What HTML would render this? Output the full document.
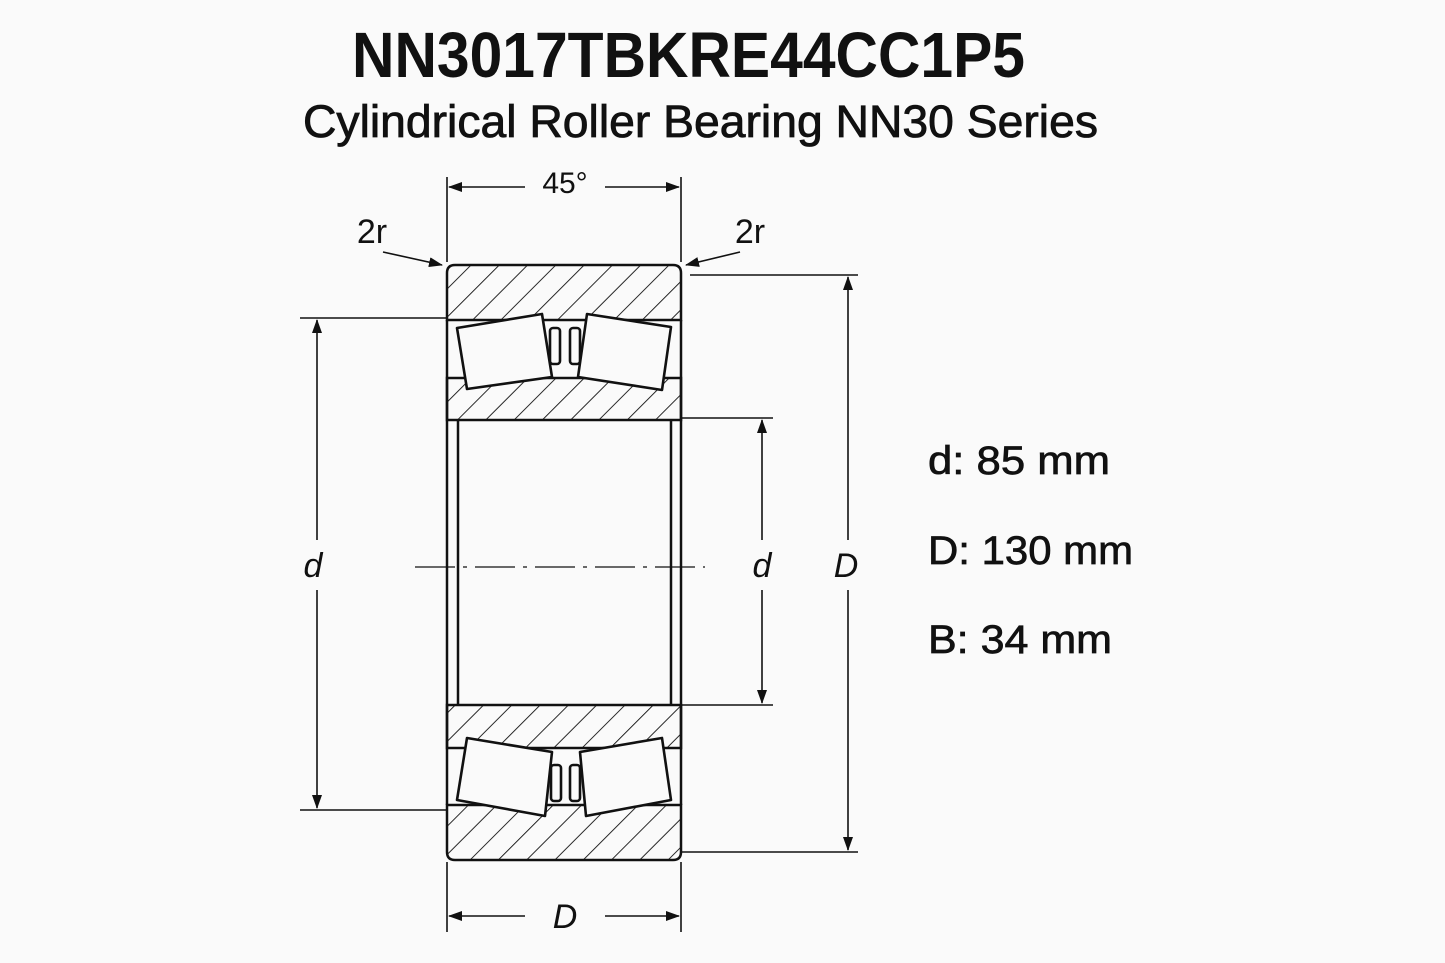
<!DOCTYPE html>
<html><head><style>
html,body{margin:0;padding:0;background:#fafafa;}
svg{display:block;}
text{font-family:"Liberation Sans",sans-serif;fill:#111;}
</style></head><body>
<svg width="1445" height="963" viewBox="0 0 1445 963" xmlns="http://www.w3.org/2000/svg">
<defs>
<pattern id="h" patternUnits="userSpaceOnUse" width="20" height="20" patternTransform="rotate(45)">
<line x1="0" y1="0" x2="0" y2="20" stroke="#111" stroke-width="1.8"/>
</pattern>
<marker id="a" markerWidth="14" markerHeight="10" refX="13" refY="5" orient="auto" markerUnits="userSpaceOnUse">
<path d="M0,0 L14,5 L0,10 z" fill="#111"/>
</marker>
</defs>
<text x="352" y="77" font-size="64" font-weight="bold" textLength="673" lengthAdjust="spacingAndGlyphs">NN3017TBKRE44CC1P5</text>
<text x="303" y="137" font-size="45" stroke="#111" stroke-width="0.8" textLength="795" lengthAdjust="spacingAndGlyphs">Cylindrical Roller Bearing NN30 Series</text>

<g stroke="#111" fill="none" stroke-width="1.6">
<line x1="447" y1="177" x2="447" y2="262"/>
<line x1="681" y1="177" x2="681" y2="262"/>
<line x1="447" y1="862" x2="447" y2="932"/>
<line x1="681" y1="862" x2="681" y2="932"/>
<line x1="300" y1="318" x2="447" y2="318"/>
<line x1="300" y1="810" x2="447" y2="810"/>
<line x1="681" y1="418" x2="773" y2="418"/>
<line x1="681" y1="705" x2="773" y2="705"/>
<line x1="690" y1="275" x2="858" y2="275"/>
<line x1="681" y1="852" x2="858" y2="852"/>
<line x1="525" y1="187" x2="449" y2="187" marker-end="url(#a)"/>
<line x1="605" y1="187" x2="679" y2="187" marker-end="url(#a)"/>
<line x1="525" y1="916" x2="449" y2="916" marker-end="url(#a)"/>
<line x1="605" y1="916" x2="679" y2="916" marker-end="url(#a)"/>
<line x1="317" y1="540" x2="317" y2="320" marker-end="url(#a)"/>
<line x1="317" y1="590" x2="317" y2="808" marker-end="url(#a)"/>
<line x1="762" y1="540" x2="762" y2="420" marker-end="url(#a)"/>
<line x1="762" y1="590" x2="762" y2="703" marker-end="url(#a)"/>
<line x1="848" y1="540" x2="848" y2="277" marker-end="url(#a)"/>
<line x1="848" y1="590" x2="848" y2="850" marker-end="url(#a)"/>
<line x1="383" y1="252" x2="442" y2="265" marker-end="url(#a)"/>
<line x1="740" y1="252" x2="686" y2="265" marker-end="url(#a)"/>
<line x1="415" y1="567" x2="705" y2="567" stroke-dasharray="40,8,4,8" stroke-width="1.2"/>
</g>

<g stroke="#111" stroke-width="2.5">
<path d="M455,265 H673 Q681,265 681,273 V320 H447 V273 Q447,265 455,265 Z" fill="url(#h)"/>
<path d="M447,378 H681 V420 H447 Z" fill="url(#h)"/>
<path d="M447,705 H681 V748 H447 Z" fill="url(#h)"/>
<path d="M447,805 H681 V852 Q681,860 673,860 H455 Q447,860 447,852 Z" fill="url(#h)"/>
<line x1="447" y1="320" x2="447" y2="805"/>
<line x1="681" y1="320" x2="681" y2="805"/>
<line x1="458" y1="420" x2="458" y2="705"/>
<line x1="671" y1="420" x2="671" y2="705"/>
</g>
<g stroke="#111" stroke-width="2.6" fill="#fafafa" stroke-linejoin="round">
<rect x="449" y="322" width="230" height="54" stroke="none"/>
<rect x="449" y="750" width="230" height="53" stroke="none"/>
<polygon points="457,328 542,314 552,377 467,389"/>
<polygon points="587,314 671,327 662,390 578,377"/>
<rect x="550" y="328" width="10" height="36" rx="3"/>
<rect x="570" y="328" width="10" height="36" rx="3"/>
<polygon points="467,738 552,752 545,816 457,800"/>
<polygon points="580,752 662,738 671,800 586,816"/>
<rect x="551" y="765" width="10" height="36" rx="3"/>
<rect x="570" y="765" width="10" height="36" rx="3"/>
</g>

<g font-size="34">
<text x="372" y="243" text-anchor="middle">2r</text>
<text x="750" y="243" text-anchor="middle">2r</text>
<text x="565" y="193" text-anchor="middle" font-size="30">45°</text>
<text x="313" y="577" text-anchor="middle" font-style="italic">d</text>
<text x="762" y="577" text-anchor="middle" font-style="italic">d</text>
<text x="846" y="577" text-anchor="middle" font-style="italic">D</text>
<text x="565" y="928" text-anchor="middle" font-style="italic">D</text>
</g>
<g font-size="40" stroke="#111" stroke-width="0.7">
<text x="928" y="474" textLength="182" lengthAdjust="spacingAndGlyphs">d: 85 mm</text>
<text x="928" y="564" textLength="205" lengthAdjust="spacingAndGlyphs">D: 130 mm</text>
<text x="928" y="653" textLength="184" lengthAdjust="spacingAndGlyphs">B: 34 mm</text>
</g>
</svg>
</body></html>
